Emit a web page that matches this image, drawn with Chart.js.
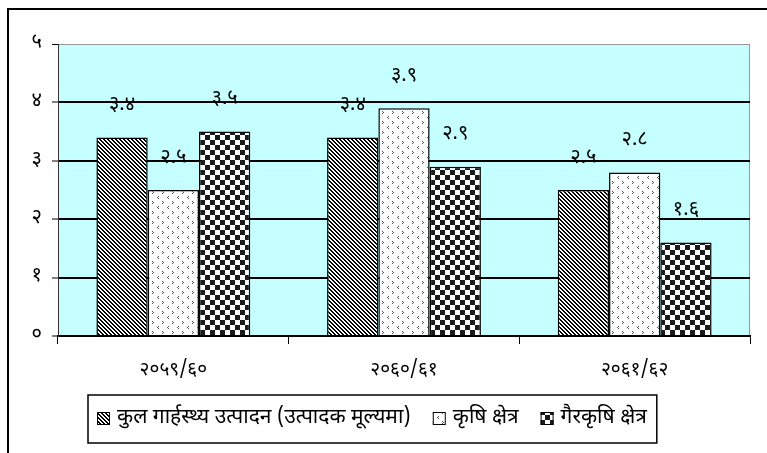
<!DOCTYPE html>
<html>
<head>
<meta charset="utf-8">
<script src="https://cdn.jsdelivr.net/npm/chart.js@4"></script>
<style>
  html, body { margin: 0; padding: 0; background: #fff; }
  #wrap { width: 767px; height: 453px; }
</style>
</head>
<body>
<div id="wrap"><canvas id="gdpChart" width="767" height="453"></canvas></div>
<script>
// आर्थिक वर्ष र वृद्धि दर (प्रतिशत)
const years = ['२०५९/६०', '२०६०/६१', '२०६१/६२'];
const seriesNames = ['कुल गार्हस्थ्य उत्पादन (उत्पादक मूल्यमा)', 'कृषि क्षेत्र', 'गैरकृषि क्षेत्र'];
const gdpTotal = [3.4, 3.4, 2.5];
const agriculture = [2.5, 3.9, 2.8];
const nonAgriculture = [3.5, 2.9, 1.6];
const yTicks = [0, 1, 2, 3, 4, 5];

const DIGITS = '०१२३४५६७८९';
const toDev = s => String(s).replace(/[0-9]/g, d => DIGITS[d]);

const FONT = '"Noto Sans Devanagari", "Noto Sans", sans-serif';

// fill patterns
function makePattern(w, h, paint) {
    const c = document.createElement('canvas');
    c.width = w; c.height = h;
    const g = c.getContext('2d');
    g.fillStyle = '#fff';
    g.fillRect(0, 0, w, h);
    paint(g);
    return document.getElementById('gdpChart').getContext('2d').createPattern(c, 'repeat');
}

const stripes = makePattern(4, 4, g => {
    g.fillStyle = '#000';
    for (let y = 0; y < 4; y++) {
        for (let x = 0; x < 4; x++) {
            const d = ((x - y) % 4 + 4) % 4;
            if (d === 0 || d === 1) g.fillRect(x, y, 1, 1);
        }
    }
});

const chevrons = makePattern(10, 10, g => {
    g.fillStyle = '#555';
    // ">" mark
    g.fillRect(2, 1, 1, 1); g.fillRect(3, 2, 1, 1); g.fillRect(2, 3, 1, 1);
    // "<" mark
    g.fillRect(8, 6, 1, 1); g.fillRect(7, 7, 1, 1); g.fillRect(8, 8, 1, 1);
});

const checker = makePattern(10, 10, g => {
    g.fillStyle = '#1a1a1a';
    g.fillRect(0, 0, 5, 5);
    g.fillRect(5, 5, 5, 5);
});

// plot background, frame and outer border
const framePlugin = {
    id: 'frame',
    beforeDraw(chart) {
        const { ctx, chartArea: a } = chart;
        ctx.save();
        ctx.fillStyle = '#fff';
        ctx.fillRect(0, 0, chart.width, chart.height);
        ctx.fillStyle = '#c6ffff';
        ctx.fillRect(a.left, a.top, a.right - a.left, a.bottom - a.top);
        ctx.strokeStyle = '#999';
        ctx.lineWidth = 1;
        ctx.strokeRect(a.left + 0.5, a.top + 0.5, a.right - a.left - 1, a.bottom - a.top);
        ctx.strokeStyle = '#000';
        ctx.lineWidth = 2;
        ctx.beginPath();
        ctx.moveTo(8, chart.height + 2);
        ctx.lineTo(8, 9);
        ctx.lineTo(chart.width + 2, 9);
        ctx.stroke();
        ctx.restore();
    }
};

// value labels above each bar
const valueLabels = {
    id: 'valueLabels',
    afterDatasetsDraw(chart) {
        const { ctx } = chart;
        ctx.save();
        ctx.font = '20px ' + FONT;
        ctx.fillStyle = '#000';
        ctx.textAlign = 'center';
        ctx.textBaseline = 'middle';
        chart.data.datasets.forEach((ds, i) => {
            chart.getDatasetMeta(i).data.forEach((bar, j) => {
                ctx.fillText(toDev(ds.data[j].toFixed(1)), bar.x, bar.y - 31);
            });
        });
        ctx.restore();
    }
};

// boxed legend under the axis
const boxLegend = {
    id: 'boxLegend',
    afterDraw(chart) {
        const { ctx } = chart;
        ctx.save();
        ctx.font = '21px ' + FONT;
        ctx.textBaseline = 'middle';
        const top = 395, bottom = 443, cy = 419, gap = 22;
        let x = 97;
        chart.data.datasets.forEach((ds, i) => {
            ctx.fillStyle = ds.backgroundColor;
            ctx.fillRect(x, cy - 7, 13, 13);
            ctx.strokeStyle = '#000';
            ctx.lineWidth = 1;
            ctx.strokeRect(x + 0.5, cy - 6.5, 12, 12);
            x += 20;
            ctx.fillStyle = '#000';
            ctx.fillText(ds.label, x, cy);
            x += ctx.measureText(ds.label).width + gap;
        });
        const right = x - gap + 10;
        ctx.strokeStyle = '#000';
        ctx.lineWidth = 1.5;
        ctx.strokeRect(88, top, right - 88, bottom - top);
        ctx.restore();
    }
};

Chart.defaults.font.family = FONT;
Chart.defaults.color = '#000';

const ctx = document.getElementById('gdpChart').getContext('2d');
new Chart(ctx, {
    type: 'bar',
    data: {
        labels: years,
        datasets: [
            { label: seriesNames[0], data: gdpTotal, backgroundColor: stripes },
            { label: seriesNames[1], data: agriculture, backgroundColor: chevrons },
            { label: seriesNames[2], data: nonAgriculture, backgroundColor: checker }
        ].map(d => Object.assign(d, {
            borderColor: '#000',
            borderWidth: 1.5,
            borderSkipped: 'bottom',
            barPercentage: 1,
            categoryPercentage: 0.667
        }))
    },
    options: {
        responsive: false,
        animation: false,
        layout: { padding: { left: 0, right: 17, top: 44, bottom: 70 } },
        plugins: {
            legend: { display: false },
            tooltip: { enabled: false }
        },
        scales: {
            x: {
                offset: true,
                grid: { offset: true, drawOnChartArea: false, tickLength: 8, color: '#000', lineWidth: 1 },
                border: { color: '#000', width: 2 },
                ticks: { padding: 16, font: { size: 19 }, maxRotation: 0 },
                afterFit: s => { s.height = 47; }
            },
            y: {
                min: 0,
                max: 5,
                afterBuildTicks: s => { s.ticks = yTicks.map(v => ({ value: v })); },
                grid: {
                    tickLength: 6,
                    color: c => (c.tick && c.tick.value === 5 ? '#999' : '#000'),
                    lineWidth: c => (c.tick && c.tick.value === 5 ? 1 : 2),
                    tickColor: '#000',
                    tickWidth: 1
                },
                border: { color: '#333', width: 1 },
                ticks: { padding: 10, font: { size: 20 }, callback: v => toDev(v) },
                afterFit: s => { s.width = 58; }
            }
        }
    },
    plugins: [framePlugin, valueLabels, boxLegend]
});
</script>
</body>
</html>
